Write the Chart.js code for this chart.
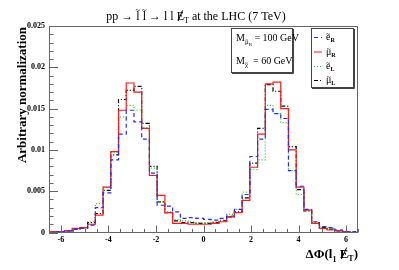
<!DOCTYPE html>
<html>
<head>
<meta charset="utf-8">
<script src="https://cdn.jsdelivr.net/npm/chart.js@4.4.1/dist/chart.umd.min.js"></script>
<style>
  html, body { margin: 0; padding: 0; background: #fff; }
  #plot { display: block; }
</style>
</head>
<body>
<canvas id="plot" width="399" height="270"></canvas>
<script>
// binning of the histograms (40 bins from -6.5 to 6.5)
const xMin = -6.5;
const xMax = 6.5;
const nBins = 40;
const xTicks = [-6, -4, -2, 0, 2, 4, 6];
const yTicks = [0, 0.005, 0.01, 0.015, 0.02, 0.025];

// per-bin contents
const eR = [0.0000, 0.0001, 0.0002, 0.0004, 0.0005, 0.0009, 0.0030, 0.0048, 0.0088, 0.0119,
            0.0148, 0.0134, 0.0113, 0.0072, 0.0033, 0.0032, 0.0025, 0.0017, 0.0018, 0.0017,
            0.0016, 0.0015, 0.0017, 0.0020, 0.0028, 0.0046, 0.0092, 0.0113, 0.0149, 0.0144,
            0.0138, 0.0075, 0.0056, 0.0028, 0.0013, 0.0007, 0.0006, 0.0003, 0.0001, 0.0001];
const muR = [0.0001, 0.0001, 0.0002, 0.0005, 0.0006, 0.0010, 0.0021, 0.0055, 0.0098, 0.0148,
             0.0181, 0.0170, 0.0126, 0.0069, 0.0045, 0.0024, 0.0011, 0.0011, 0.0010, 0.0010,
             0.0010, 0.0011, 0.0013, 0.0019, 0.0024, 0.0039, 0.0079, 0.0119, 0.0180, 0.0182,
             0.0150, 0.0100, 0.0055, 0.0027, 0.0011, 0.0005, 0.0003, 0.0002, 0.0001, 0.0000];
const eL = [0.0001, 0.0001, 0.0003, 0.0004, 0.0005, 0.0013, 0.0035, 0.0055, 0.0097, 0.0140,
            0.0154, 0.0148, 0.0127, 0.0078, 0.0037, 0.0025, 0.0016, 0.0014, 0.0013, 0.0012,
            0.0012, 0.0013, 0.0015, 0.0022, 0.0028, 0.0049, 0.0076, 0.0088, 0.0154, 0.0144,
            0.0133, 0.0075, 0.0046, 0.0026, 0.0012, 0.0007, 0.0005, 0.0003, 0.0001, 0.0000];
const muL = [0.0001, 0.0001, 0.0002, 0.0004, 0.0006, 0.0012, 0.0023, 0.0051, 0.0094, 0.0161,
             0.0172, 0.0177, 0.0132, 0.0080, 0.0037, 0.0024, 0.0014, 0.0012, 0.0012, 0.0011,
             0.0011, 0.0012, 0.0014, 0.0019, 0.0025, 0.0042, 0.0084, 0.0126, 0.0179, 0.0171,
             0.0153, 0.0104, 0.0052, 0.0026, 0.0012, 0.0006, 0.0004, 0.0002, 0.0001, 0.0000];

const binWidth = (xMax - xMin) / nBins;
const binEdges = [];
for (let i = 0; i < nBins; i++) binEdges.push(xMin + i * binWidth);

const series = [
    { label: "e_R", values: eR, color: "#2b2bff", dash: [4, 3] },
    { label: "mu_R", values: muR, color: "#ff1a1a", dash: [] },
    { label: "e_L", values: eL, color: "#22cc22", dash: [1, 2] },
    { label: "mu_L", values: muL, color: "#000000", dash: [4, 2, 1, 2] },
];

function histPoints(values) {
    const pts = binEdges.map((x, i) => ({ x: x, y: values[i] }));
    pts.push({ x: xMax, y: values[values.length - 1] });
    return pts;
}

const SERIF = '"Liberation Serif", "DejaVu Serif", serif';

function fontPx(font) {
    return parseFloat(font.match(/(\d+(\.\d+)?)px/)[1]);
}

// draws a row of text pieces: [text, font, dy, flag, lift]
function drawRuns(ctx, x, y, runs, align) {
    let w = 0;
    runs.forEach(r => { ctx.font = r[1]; w += ctx.measureText(r[0]).width; });
    let cx = align === 'center' ? x - w / 2 : (align === 'right' ? x - w : x);
    ctx.textAlign = 'left';
    ctx.textBaseline = 'alphabetic';
    runs.forEach(r => {
        ctx.font = r[1];
        const tw = ctx.measureText(r[0]).width;
        const by = y + (r[2] || 0);
        const size = fontPx(r[1]);
        ctx.fillText(r[0], cx, by);
        if (r[3] === 'slash') {
            const h = size * 0.72;
            ctx.save();
            ctx.lineWidth = 1;
            ctx.beginPath();
            ctx.moveTo(cx + tw * 0.2, by + 1);
            ctx.lineTo(cx + tw * 0.8, by - h - 1);
            ctx.stroke();
            ctx.restore();
        }
        if (r[3] === 'tilde') {
            ctx.save();
            ctx.font = (size * 0.75) + 'px ' + SERIF;
            ctx.textAlign = 'center';
            ctx.fillText('~', cx + tw / 2, by - size * (r[4] || 0.3));
            ctx.restore();
        }
        cx += tw;
    });
}

const overlay = {
    id: 'overlay',
    afterDraw(chart) {
        const ctx = chart.ctx;
        const a = chart.chartArea;
        const xs = chart.scales.x;
        const ys = chart.scales.y;
        ctx.save();

        // frame
        ctx.strokeStyle = '#666';
        ctx.lineWidth = 1;
        ctx.strokeRect(Math.round(a.left) + 0.5, Math.round(a.top) + 0.5,
            Math.round(a.right - a.left) - 1, Math.round(a.bottom - a.top) - 1);

        // inner ticks
        ctx.beginPath();
        for (let v = -6.5; v <= 6.5001; v += 0.5) {
            const px = Math.round(xs.getPixelForValue(v)) + 0.5;
            const major = Math.abs(v % 2) < 1e-6;
            ctx.moveTo(px, a.bottom);
            ctx.lineTo(px, a.bottom - (major ? 7 : 3.5));
        }
        for (let i = 0; i <= 25; i++) {
            const py = Math.round(ys.getPixelForValue(i * 0.001)) + 0.5;
            const major = i % 5 === 0;
            ctx.moveTo(a.left, py);
            ctx.lineTo(a.left + (major ? 9 : 4.5), py);
        }
        ctx.stroke();

        ctx.fillStyle = '#000';
        ctx.strokeStyle = '#000';

        // title
        drawRuns(ctx, 196, 20, [
            ['pp \u2192 ', '12px ' + SERIF],
            ['l', '12px ' + SERIF, 0, 'tilde', 0.55],
            [' ', '12px ' + SERIF],
            ['l', '12px ' + SERIF, 0, 'tilde', 0.55],
            [' \u2192 l l ', '12px ' + SERIF],
            ['E', '12px ' + SERIF, 0, 'slash'],
            ['T', '8px ' + SERIF, 3],
            [' at the LHC (7 TeV)', '12px ' + SERIF],
        ], 'center');

        // y axis title
        ctx.save();
        ctx.translate(26, 27);
        ctx.rotate(-Math.PI / 2);
        ctx.font = 'bold 13px ' + SERIF;
        ctx.textAlign = 'right';
        ctx.fillText('Arbitrary normalization', 0, 0);
        ctx.restore();

        // x axis title
        drawRuns(ctx, 358, 258, [
            ['\u0394\u03a6(l', 'bold 13px ' + SERIF],
            ['1', 'bold 8px ' + SERIF, 4],
            [' ', 'bold 13px ' + SERIF],
            ['E', 'bold 13px ' + SERIF, 0, 'slash'],
            ['T', 'bold 8px ' + SERIF, 3],
            [')', 'bold 13px ' + SERIF],
        ], 'right');

        // mass box
        ctx.fillStyle = '#fff';
        ctx.fillRect(231, 28, 61, 44);
        ctx.strokeStyle = '#444';
        ctx.strokeRect(231.5, 28.5, 61, 44);
        ctx.beginPath();
        ctx.moveTo(232, 73.5); ctx.lineTo(293.5, 73.5); ctx.lineTo(293.5, 29);
        ctx.stroke();
        ctx.fillStyle = '#000';
        drawRuns(ctx, 236, 41, [
            ['M', '10px ' + SERIF],
            ['\u03bc', '7px ' + SERIF, 3, 'tilde', 0.3],
            ['R', '5px ' + SERIF, 5],
            [' = 100 GeV', '10px ' + SERIF],
        ], 'left');
        drawRuns(ctx, 236, 64, [
            ['M', '10px ' + SERIF],
            ['\u03c7', '7px ' + SERIF, 3, 'tilde', 0.3],
            ['  = 60 GeV', '10px ' + SERIF],
        ], 'left');

        // series legend
        ctx.fillStyle = '#fff';
        ctx.fillRect(311, 28, 42, 59);
        ctx.strokeStyle = '#444';
        ctx.strokeRect(311.5, 28.5, 42, 59);
        ctx.beginPath();
        ctx.moveTo(312, 88.5); ctx.lineTo(354.5, 88.5); ctx.lineTo(354.5, 29);
        ctx.stroke();
        const names = [['e', 'R'], ['\u03bc', 'R'], ['e', 'L'], ['\u03bc', 'L']];
        const rows = [37, 51.5, 66, 80];
        series.forEach((s, i) => {
            ctx.strokeStyle = s.color;
            ctx.lineWidth = 1;
            ctx.setLineDash(s.dash);
            ctx.beginPath();
            ctx.moveTo(314, rows[i] + 0.5);
            ctx.lineTo(322, rows[i] + 0.5);
            ctx.stroke();
            ctx.setLineDash([]);
            ctx.fillStyle = '#000';
            drawRuns(ctx, 326, rows[i] + 3, [
                [names[i][0], '10px ' + SERIF, 0, 'tilde', 0.3],
                [names[i][1], 'bold 6px ' + SERIF, 2],
            ], 'left');
        });

        ctx.restore();
    }
};

new Chart(document.getElementById('plot'), {
    type: 'line',
    data: {
        datasets: series.map(s => ({
            label: s.label,
            data: histPoints(s.values),
            borderColor: s.color,
            borderDash: s.dash,
            borderWidth: 1.2,
            stepped: 'before',
            pointRadius: 0,
            fill: false,
        }))
    },
    options: {
        responsive: false,
        animation: false,
        devicePixelRatio: 1,
        layout: { padding: { left: 0, top: 26, right: 41, bottom: 0 } },
        plugins: { legend: { display: false }, tooltip: { enabled: false }, title: { display: false } },
        scales: {
            x: {
                type: 'linear',
                min: xMin,
                max: xMax,
                afterBuildTicks: s => { s.ticks = xTicks.map(v => ({ value: v })); },
                afterFit: s => { s.height = 37.5; },
                grid: { display: false, drawTicks: false },
                border: { display: false },
                ticks: { color: '#000', padding: 3, maxRotation: 0, font: { family: SERIF, size: 8, weight: 'bold' } }
            },
            y: {
                min: 0,
                max: 0.025,
                afterBuildTicks: s => { s.ticks = yTicks.map(v => ({ value: v })); },
                afterFit: s => { s.width = 49; },
                grid: { display: false, drawTicks: false },
                border: { display: false },
                ticks: {
                    color: '#000',
                    padding: 4,
                    font: { family: SERIF, size: 8, weight: 'bold' },
                    callback: v => String(+v.toFixed(3))
                }
            }
        }
    },
    plugins: [overlay]
});
</script>
</body>
</html>
